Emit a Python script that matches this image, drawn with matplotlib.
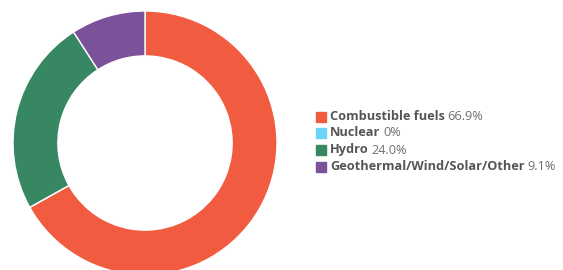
import matplotlib
matplotlib.use("Agg")
import matplotlib.pyplot as plt

# energy mix shares (%)
labels = ['Combustible fuels', 'Nuclear', 'Hydro', 'Geothermal/Wind/Solar/Other']
shares = [66.9, 0.0, 24.0, 9.1]
share_text = ['66.9%', '0%', '24.0%', '9.1%']
colors = ['#F15C40', '#6DD3F7', '#378763', '#7B5199']

W, H = 563, 270
fig = plt.figure(figsize=(W / 100, H / 100), dpi=100)

# donut axes, placed in pixel terms
cx, cy, r = 145, 143, 132
ax = fig.add_axes([(cx - r) / W, (H - cy - r) / H, 2 * r / W, 2 * r / H])
ax.pie(shares, colors=colors, startangle=90, counterclock=False,
       radius=1.0, wedgeprops=dict(width=0.34, edgecolor='white', linewidth=1))
ax.set_xlim(-1, 1)
ax.set_ylim(-1, 1)
ax.set_aspect('equal')
ax.axis('off')

# legend drawn by hand: square, bold name, normal percentage
row_y = [117, 133, 150, 167]
for lab, txt, col, y in zip(labels, share_text, colors, row_y):
    yf = 1 - y / H
    fig.patches.append(plt.Rectangle((316 / W, yf - 5 / H), 10 / W, 10 / H,
                                     transform=fig.transFigure, color=col))
    t = fig.text(330 / W, yf, lab, fontsize=9.2, fontweight='bold',
                 family='Open Sans', color='#555555', va='center')
    ax.annotate(txt, xy=(1, 0.5), xycoords=t, xytext=(2, 0),
                textcoords='offset points', fontsize=9.2, family='Open Sans',
                color='#707070', va='center', annotation_clip=False)

fig.savefig('out.png', dpi=100)
